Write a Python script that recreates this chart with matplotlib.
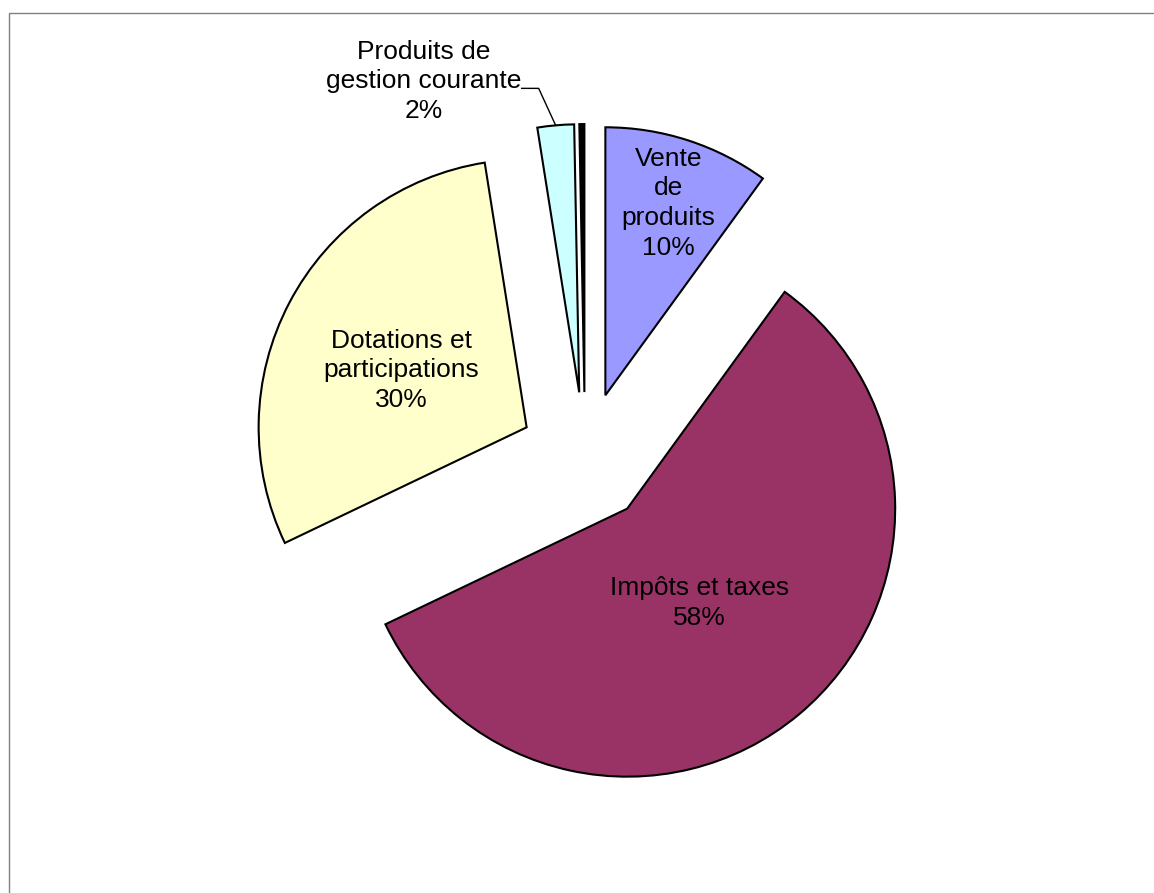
import numpy as np
import matplotlib
matplotlib.use("Agg")
import matplotlib.pyplot as plt
from matplotlib.patches import Rectangle

# ---- data ----
categories = ["Vente\nde\nproduits", "Impôts et taxes", "Dotations et\nparticipations",
              "Produits de\ngestion courante", ""]
values = [10.0, 57.9, 29.6, 2.2, 0.3]
colors = ["#9999FF", "#993366", "#FFFFCC", "#CCFFFF", "#000000"]

# ---- layout (pixels) ----
W, H = 1154, 893
R_PX = 268.0
CX, CY = 585.0, 458.0
explode_frac = 0.246
# inside label offsets from wedge apex (px, x right / y up)
label_off = [(63, 192), (72, -94), (-125, 57), None, None]

plt.rcParams['font.family'] = ['Liberation Sans', 'DejaVu Sans']
fig = plt.figure(figsize=(W / 100, H / 100), dpi=100)
ax = fig.add_axes([0, 0, 1, 1])

wedges, _ = ax.pie(values, colors=colors, startangle=90, counterclock=False,
                   radius=1.0, center=(0, 0), explode=[explode_frac] * len(values),
                   wedgeprops=dict(edgecolor="black", linewidth=1.5, joinstyle="miter"))
ax.set_aspect("auto")
ax.set_xlim(-CX / R_PX, (W - CX) / R_PX)
ax.set_ylim((CY - H) / R_PX, CY / R_PX)
ax.axis("off")

total = sum(values)
fs = 19
ls = 1.3
for i, w in enumerate(wedges):
    pct = values[i] / total * 100
    th = np.deg2rad((w.theta1 + w.theta2) / 2)
    ux, uy = np.cos(th), np.sin(th)
    apx, apy = w.center
    if label_off[i] is not None:
        ox, oy = label_off[i]
        ax.text(apx + ox / R_PX, apy + oy / R_PX, f"{categories[i]}\n{pct:.0f}%",
                ha="center", va="center", fontsize=fs, linespacing=ls, color="black")
    elif categories[i]:
        # outside label with leader line
        px, py = apx + ux, apy + uy
        ex, ey = px - 17 / R_PX, py + 37 / R_PX
        fx, fy = ex - 17 / R_PX, ey
        ax.plot([px, ex, fx], [py, ey, fy], color="black", lw=1.0)
        ax.text(fx - 98 / R_PX, fy + 7 / R_PX, f"{categories[i]}\n{pct:.0f}%",
                ha="center", va="center", fontsize=fs, linespacing=ls, color="black")

# chart area border
fig.patches.append(Rectangle((9 / W, -0.1), 1.2, 1 - 13 / H + 0.1, transform=fig.transFigure,
                             fill=False, edgecolor="#808080", linewidth=1.0))

fig.savefig("out.png", dpi=100, facecolor="white")
